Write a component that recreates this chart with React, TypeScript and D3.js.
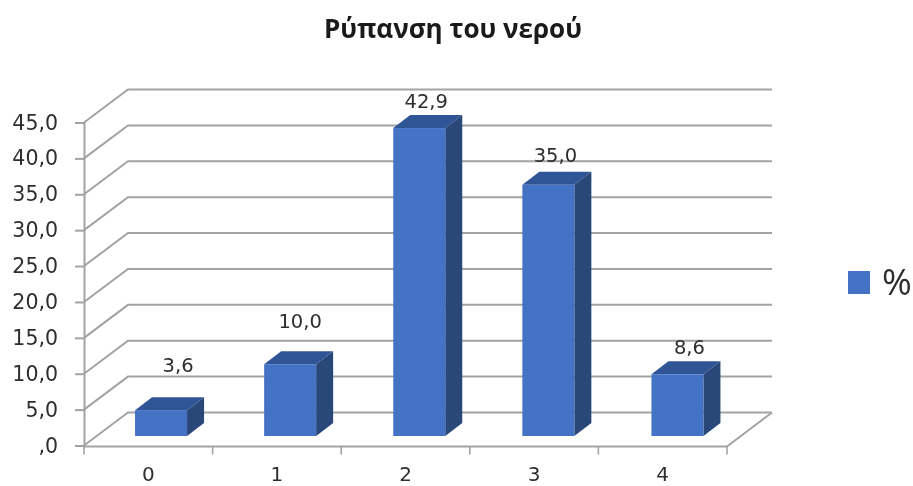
import React, { useEffect, useRef } from "react";
import * as d3 from "d3";

const title = "Ρύπανση του νερού";
const categories = ["0", "1", "2", "3", "4"];
const percentValues = [3.6, 10.0, 42.9, 35.0, 8.6];
const percentLabels = ["3,6", "10,0", "42,9", "35,0", "8,6"];
const yTickValues = [0, 5, 10, 15, 20, 25, 30, 35, 40, 45];
const yTickLabels = [",0", "5,0", "10,0", "15,0", "20,0", "25,0", "30,0", "35,0", "40,0", "45,0"];
const seriesName = "%";

const width = 913;
const height = 486;
const titleFont = "'Open Sans', 'Noto Sans', sans-serif";
const labelFont = "'DejaVu Sans', sans-serif";

export default function App() {
    const ref = useRef<SVGSVGElement>(null);

    useEffect(() => {
        const svg = d3.select(ref.current);
        svg.selectAll("*").remove();

        const grey = "#a3a3a3";
        const textColor = "#2e2e2e";

        // plot box, plus the fake 3d depth of the walls and of the bars
        const left = 84, right = 727, bottom = 445.5, top = 122.5;
        const wallDx = 44, wallDy = -33;
        const barDx = 17, barDy = -13;
        const barOffsetY = -9.5;

        const x = d3.scaleBand().domain(categories).range([left, right]);
        const y = d3.scaleLinear().domain([0, 45]).range([bottom, top]);
        // bars are spaced a touch wider than the axis bands
        const barX = d3.scaleBand().domain(categories).range([96.5, 742]);
        const barWidth = 52;

        // the back wall grid
        const grid = svg.append("g").attr("fill", "none").attr("stroke", grey).attr("stroke-width", 2);
        yTickValues.forEach(v => {
            const points: [number, number][] = [
                [left, y(v)],
                [left + wallDx, y(v) + wallDy],
                [right + wallDx + 1, y(v) + wallDy]
            ];
            grid.append("path").attr("d", d3.line()(points));
        });
        // floor edge on the right side
        grid.append("path").attr("d", d3.line()([
            [right, bottom + 1],
            [right + wallDx + 1, bottom + wallDy]
        ]));

        // axes
        const yAxis = svg.append("g")
            .attr("transform", "translate(" + left + ",0)")
            .call(d3.axisLeft(y)
                .tickValues(yTickValues)
                .tickFormat((d, i) => yTickLabels[i])
                .tickSize(9)
                .tickPadding(17));
        yAxis.selectAll("path,line").attr("stroke", grey).attr("stroke-width", 2);
        yAxis.selectAll("text")
            .attr("fill", textColor)
            .style("font-family", labelFont)
            .style("font-size", "20.5px");

        const xAxis = svg.append("g")
            .attr("transform", "translate(0," + (bottom + 1) + ")")
            .call(d3.axisBottom(x).tickSize(0).tickPadding(20));
        xAxis.selectAll("path").attr("stroke", grey).attr("stroke-width", 2).attr("d", "M" + left + ",0H" + right);
        xAxis.selectAll("text")
            .attr("fill", textColor)
            .style("font-family", labelFont)
            .style("font-size", "20px");

        // ticks sit between the categories
        svg.append("g").selectAll("line")
            .data([...categories.map(c => x(c) as number), right])
            .join("line")
            .attr("x1", d => d)
            .attr("x2", d => d)
            .attr("y1", bottom + 1)
            .attr("y2", bottom + 9)
            .attr("stroke", grey)
            .attr("stroke-width", 1.6);

        // bars
        const bars = svg.append("g").selectAll("g")
            .data(percentValues)
            .join("g")
            .attr("transform", (d, i) => {
                const cx = (barX(categories[i]) as number) + barX.bandwidth() / 2;
                return "translate(" + (cx - barWidth / 2) + "," + barOffsetY + ")";
            });

        bars.append("path")
            .attr("fill", "#2f5597")
            .attr("d", d => d3.line()([
                [0, y(d)],
                [barDx, y(d) + barDy],
                [barWidth + barDx, y(d) + barDy],
                [barWidth, y(d)]
            ]));
        bars.append("path")
            .attr("fill", "#2a4779")
            .attr("d", d => d3.line()([
                [barWidth, y(d)],
                [barWidth + barDx, y(d) + barDy],
                [barWidth + barDx, y(0) + barDy],
                [barWidth, y(0)]
            ]));
        bars.append("rect")
            .attr("fill", "#4472c4")
            .attr("x", 0)
            .attr("y", d => y(d))
            .attr("width", barWidth)
            .attr("height", d => y(0) - y(d));

        // the labels were dragged around by hand in the original
        const labelShiftX = [17, 10, 7, 7, 12];
        const labelLift = [32, 30, 14, 17, 14];
        svg.append("g").selectAll("text")
            .data(percentLabels)
            .join("text")
            .attr("x", (d, i) => (barX(categories[i]) as number) + barX.bandwidth() / 2 + labelShiftX[i])
            .attr("y", (d, i) => y(percentValues[i]) + barOffsetY + barDy - labelLift[i])
            .attr("dy", "0.35em")
            .attr("text-anchor", "middle")
            .attr("fill", textColor)
            .style("font-family", labelFont)
            .style("font-size", "19.5px")
            .text(d => d);

        svg.append("text")
            .attr("x", 453)
            .attr("y", 38)
            .attr("text-anchor", "middle")
            .attr("fill", "#1a1a1a")
            .style("font-family", titleFont)
            .style("font-weight", "bold")
            .style("font-size", "26px")
            .text(title);

        // legend
        svg.append("rect")
            .attr("x", 848)
            .attr("y", 271)
            .attr("width", 22)
            .attr("height", 23)
            .attr("fill", "#4472c4");
        svg.append("text")
            .attr("x", 882)
            .attr("y", 295)
            .attr("fill", textColor)
            .style("font-family", titleFont)
            .style("font-size", "36px")
            .text(seriesName);
    }, []);

    return (
        <svg
            ref={ref}
            width={width}
            height={height}
            style={{ position: "absolute", left: 0, top: 0, background: "#fff", filter: "blur(0.5px)" }}
        />
    );
}
